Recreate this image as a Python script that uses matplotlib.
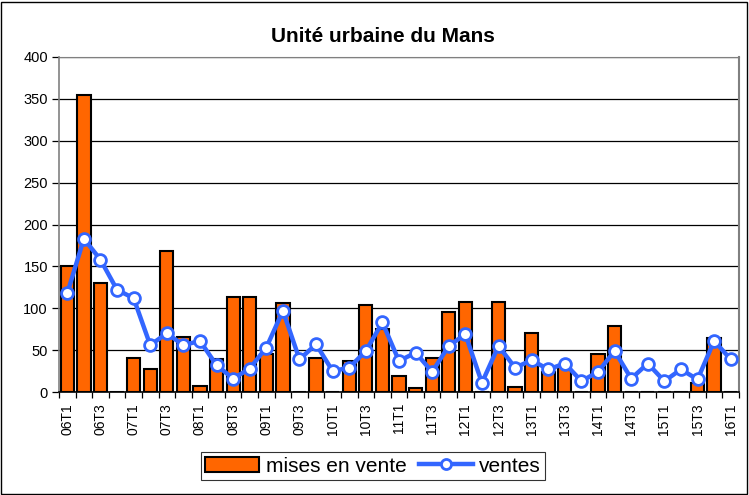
import matplotlib.pyplot as plt
import numpy as np
from matplotlib.patches import Rectangle

plt.rcParams["font.family"] = ["Liberation Sans", "DejaVu Sans"]

quarters = [f"{y:02d}T{q}" for y in range(6, 16) for q in range(1, 5)] + ["16T1"]
mises_en_vente = [150, 355, 130, 0, 41, 28, 168, 66, 7, 39, 113, 113, 45, 106, 0, 41,
                  0, 37, 104, 75, 19, 5, 41, 95, 107, 0, 107, 6, 70, 24, 32, 0,
                  45, 79, 0, 0, 0, 0, 11, 64, 0]
ventes = [118, 183, 158, 122, 112, 56, 70, 56, 61, 32, 16, 28, 53, 97, 39, 57,
          25, 29, 49, 83, 37, 47, 24, 55, 69, 11, 55, 29, 38, 27, 34, 13,
          24, 49, 16, 34, 13, 27, 15, 61, 39]

x = np.arange(len(quarters))

fig = plt.figure(figsize=(7.49, 4.95), dpi=100)
ax = fig.add_axes([59 / 749, 1 - 392 / 495, 680 / 749, 335 / 495])

bars = ax.bar(x, mises_en_vente, width=0.8, color="#FF6600", edgecolor="black",
              linewidth=1.5, label="mises en vente", zorder=2)
line, = ax.plot(x, ventes, color="#3366FF", lw=3.2, marker="o", ms=8.5,
                mfc="white", mec="#3366FF", mew=2, label="ventes", zorder=3)

ax.set_xlim(-0.5, len(quarters) - 0.5)
ax.set_ylim(0, 400)
ax.set_yticks(range(0, 401, 50))
ax.yaxis.grid(True, color="black", lw=0.9, zorder=0)
ax.set_axisbelow(True)

ax.set_xticks(x[::2])
ax.set_xticklabels(quarters[::2], rotation=90, fontsize=10)
ax.set_xticks(np.arange(-0.5, len(quarters), 1), minor=True)
ax.tick_params(axis="x", which="major", length=0, pad=8)
ax.tick_params(axis="x", which="minor", length=4, width=0.9, direction="out")
ax.tick_params(axis="y", length=5, width=0.9, labelsize=10.5, pad=3)

ax.spines["left"].set_color("#808080")
ax.spines["left"].set_linewidth(1.2)
ax.spines["bottom"].set_linewidth(1.2)
ax.spines["top"].set_color("#808080")
ax.spines["right"].set_color("#808080")
ax.spines["right"].set_linewidth(1.5)

fig.text(383 / 749, 1 - 36 / 495, "Unité urbaine du Mans", ha="center", va="center",
         fontsize=15, fontweight="bold")

leg = fig.legend([bars, line], ["mises en vente", "ventes"], loc="center",
                 bbox_to_anchor=(373 / 749, 1 - 466 / 495), ncol=2,
                 fontsize=15, frameon=True, fancybox=False, edgecolor="black",
                 handlelength=2.6, handletextpad=0.3, columnspacing=0.6,
                 borderpad=0.2, borderaxespad=0, markerscale=0.85)
leg.get_frame().set_linewidth(0.8)

fig.patches.append(Rectangle((1 / 749, 1 / 495), 746 / 749, 492 / 495,
                             transform=fig.transFigure, fill=False,
                             edgecolor="black", lw=1))

fig.savefig("out.png", dpi=100)
